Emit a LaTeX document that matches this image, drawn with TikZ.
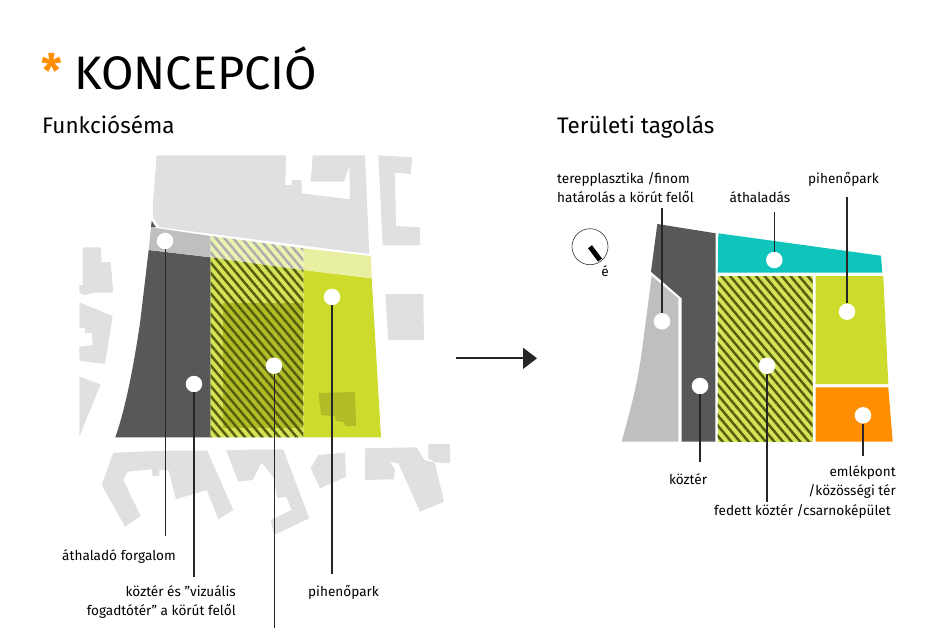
\documentclass[tikz,border=0pt]{standalone}
\usepackage{fontspec}
\setmainfont{Fira Sans}
\usetikzlibrary{arrows.meta,patterns.meta}
\definecolor{PlanGrey}{HTML}{E0E0E3}
\definecolor{PlanDark}{HTML}{585858}
\definecolor{PlanGreen}{HTML}{CDDC2C}
\definecolor{PlanStripe}{HTML}{55600F}
\definecolor{PlanTeal}{HTML}{0FC4BB}
\definecolor{PlanOrange}{HTML}{FF8F00}

\begin{document}
\begin{tikzpicture}[x=1pt,y=-1pt,>=Latex,
    building/.style={fill=PlanGrey,draw=none},
    hatch/.style={pattern={Lines[angle=-50,distance=6.6pt,line width=2.5pt]},pattern color=#1},
    dot/.style={circle,fill=white,minimum size=16.5pt,inner sep=0pt},
    leader/.style={draw=black!85,line width=1.1pt},
    label/.style={inner sep=0pt,font=\fontsize{13.6}{19}\selectfont,align=#1},
    label/.default=left,
    heading/.style={inner sep=0pt,anchor=base west,font=\fontsize{22.5}{28}\selectfont}]
  \useasboundingbox (0,0) rectangle (951,638);

  % left plan, neighbouring buildings
  \fill[building] (156.7,155.3) -- (286,155.3) -- (285.3,185) -- (291.7,185) -- (291.7,180) -- (301.7,180) -- (301.7,193.3) -- (350,199.3) -- (349.3,166.7) -- (344,181.7) -- (310.7,181.7) -- (312.7,155.3) -- (365,155.3) -- (369.3,254) -- (160,227.3) -- (153.3,218.3) -- (152.7,206.7) -- cycle;
  \fill[building] (378.3,155.3) -- (412.3,157.3) -- (410.7,174) -- (395,172.7) -- (396,226) -- (420,227.3) -- (420,245.3) -- (382.7,245.3) -- cycle;
  \fill[building] (385.3,294) -- (423.3,294) -- (424,340) -- (388.3,340) -- cycle;
  \fill[building] (82.7,247.3) -- (100.7,247.3) -- (101.7,262) -- (110.7,262) -- (113.3,292.7) -- (93.3,292.7) -- (85,295.3) -- (79.3,292.7) -- (79.3,285) -- (82.7,285) -- cycle;
  \fill[building] (79.3,302.3) -- (112.7,316) -- (105,364) -- (79.3,360.7) -- (79.3,346.7) -- (92.7,345) -- (92,333) -- (85,333) -- (85,328) -- (79.3,328) -- cycle;
  \fill[building] (79.3,376.7) -- (100.7,384.3) -- (79.3,436.7) -- cycle;
  \fill[building] (113.3,452.7) -- (163.3,450.7) -- (207.3,450.7) -- (233.3,510) -- (218.3,519.3) -- (206.7,490) -- (176,499.3) -- (168.3,470) -- (159.3,470) -- (159.3,476) -- (152.7,476) -- (151.7,469.3) -- (127.3,471.7) -- (123.3,480) -- (140.7,516) -- (125,526.7) -- (101.7,485) -- cycle;
  \fill[building] (226,450) -- (283.3,449.3) -- (309.3,518.3) -- (274,535) -- (270.7,520) -- (291.7,510) -- (286,496.7) -- (277.3,498.3) -- (274,478) -- (261.7,462.7) -- (252.7,480) -- (238.3,481.7) -- cycle;
  \fill[building] (318.3,455) -- (345,452.7) -- (346,476.7) -- (320,488.3) -- (310.7,468.3) -- cycle;
  \fill[building] (365,448.3) -- (416.7,447.3) -- (424.3,460) -- (435,462.7) -- (444,501.7) -- (420,511.7) -- (398.3,463.3) -- (390,461.7) -- (395,469.3) -- (394,479.3) -- (365,480) -- cycle;
  \fill[building] (428.3,444) -- (450,444) -- (450,463.3) -- (435,462.3) -- (428.3,458.3) -- cycle;

  % left plan, site
  \fill[PlanDark] (151.7,220.7) -- (156,227.3) -- (151,227.3) -- cycle;
  \fill[PlanDark] (148.7,250) -- (210.7,257.3) -- (210.7,437.3) -- (115.3,437.3) .. controls (125,410) and (133,370) .. (140,323.3) -- cycle;
  \fill[black!25] (151,227.3) -- (210.7,236) -- (210.7,257.3) -- (148.7,250) -- cycle;
  \fill[PlanGreen] (303.3,270) -- (371.7,278.3) -- (381,437.3) -- (303.3,437.3) -- cycle;
  \fill[PlanGreen!45] (303.3,248.3) -- (371,256) -- (371.7,278.3) -- (303.3,270) -- cycle;
  \fill[black!14!PlanGreen] (318.5,393) -- (355,392) -- (356,426) -- (345,426) -- (344,422) -- (336,421) -- (335,416) -- (321,415) -- cycle;
  \fill[PlanGreen!80!white] (210.7,257.3) -- (303.3,270) -- (303.3,437.3) -- (210.7,437.3) -- cycle;
  \fill[PlanGreen!38] (210.7,236) -- (303.3,248.3) -- (303.3,270) -- (210.7,257.3) -- cycle;
  \fill[black!14!PlanGreen] (222.7,302.7) rectangle (303.3,428.3);
  \fill[hatch=PlanStripe] (210.7,257.3) -- (303.3,270) -- (303.3,437.3) -- (210.7,437.3) -- cycle;
  \fill[hatch=black!32] (210.7,236) -- (303.3,248.3) -- (303.3,270) -- (210.7,257.3) -- cycle;

  % right plan
  \fill[PlanDark] (657.3,224) -- (715.7,233.3) -- (715.3,441.7) -- (681.7,441.7) -- (681.7,298.3) -- (651,271.7) -- cycle;
  \fill[black!25] (651.7,276) -- (678.3,298.3) -- (678.3,441.7) -- (621.7,441.7) .. controls (630,410) and (638,385) .. (643.3,340) -- cycle;
  \fill[PlanTeal] (718.3,233.3) -- (881,255.7) -- (882.3,272.7) -- (717.7,272.7) -- cycle;
  \fill[PlanGreen!80!white] (717.7,276) rectangle (812.7,441.7);
  \fill[hatch=PlanStripe] (717.7,276) rectangle (812.7,441.7);
  \fill[PlanGreen] (815.7,276) -- (883.3,276) -- (888.3,384) -- (815.7,384) -- cycle;
  \fill[PlanOrange] (815.7,387.3) -- (888.3,387.3) -- (892.7,441.7) -- (815.7,441.7) -- cycle;

  % title and headings
  \node[inner sep=0pt,font=\fontsize{46}{46}\selectfont\bfseries,text=PlanOrange] (star) at (52,70) {*};
  \node[inner sep=0pt,anchor=base west,font=\fontsize{47}{47}\selectfont] (title) at (74,89.5) {KONCEPCIÓ};
  \node[heading] (funkcio) at (42,133.5) {Funkcióséma};
  \node[heading] (terulet) at (557,133.5) {Területi tagolás};

  % dots of the left plan
  \node[dot] (forgalom) at (165,241) {};
  \node[dot] (fogado) at (194,384) {};
  \node[dot] (csarnok) at (274,365.7) {};
  \node[dot] (park) at (332,297) {};
  % dots of the right plan
  \node[dot] (terep) at (662,321.3) {};
  \node[dot] (kozter) at (700,386) {};
  \node[dot] (fedett) at (767,365.7) {};
  \node[dot] (athalad) at (774.3,260) {};
  \node[dot] (parkb) at (847,311.7) {};
  \node[dot] (emlek) at (863,415.3) {};

  % labels
  \node[label] (forgalomtxt) at (119,556) {áthaladó forgalom};
  \node[label=right,anchor=east] (fogadotxt) at (236,601.5) {köztér és "vizuális\\fogadtótér" a körút felől};
  \node[label] (parktxt) at (343.5,592) {pihenőpark};
  \node[label=left,anchor=west] (tereptxt) at (557,188) {terepplasztika /finom\\határolás a körút felől};
  \node[label] (athaladtxt) at (760,197) {áthaladás};
  \node[label] (parkbtxt) at (843.5,179) {pihenőpark};
  \node[label] (koztertxt) at (688,479) {köztér};
  \node[label=right,anchor=east] (emlektxt) at (896,481.5) {emlékpont\\/közösségi tér};
  \node[label] (fedetttxt) at (802.5,511) {fedett köztér /csarnoképület};

  % free ends of the leaders
  \coordinate (forgalomend) at (165,535.7);
  \coordinate (fogadoend) at (194,576.7);
  \coordinate (csarnokend) at (274,628);
  \coordinate (parkend) at (332,574);
  \coordinate (terepend) at (662,208.3);
  \coordinate (kozterend) at (700,461.7);
  \coordinate (fedettend) at (767,501.7);
  \coordinate (athaladend) at (774.3,211.7);
  \coordinate (parkbend) at (847,196.7);
  \coordinate (emlekend) at (863,455.7);

  \draw[leader,line width=0.8pt] (forgalom) -- (forgalomend);
  \draw[leader] (fogado) -- (fogadoend);
  \draw[leader,line width=0.8pt] (csarnok) -- (csarnokend);
  \draw[leader] (park) -- (parkend);
  \draw[leader] (terep) -- (terepend);
  \draw[leader] (kozter) -- (kozterend);
  \draw[leader] (fedett) -- (fedettend);
  \draw[leader] (athalad) -- (athaladend);
  \draw[leader] (parkb) -- (parkbend);
  \draw[leader] (emlek) -- (emlekend);

  % north sign
  \node[circle,draw=black!80,line width=0.6pt,minimum size=36pt,inner sep=0pt] (north) at (590,246.7) {};
  \coordinate (northend) at (600,260);
  \draw[line width=5pt] (north.center) -- (northend);
  \node[label] (northtxt) at (605,271) {é};

  % arrow between the plans
  \coordinate (arrowstart) at (455.5,358.3);
  \coordinate (arrowend) at (537,358.3);
  \draw[-{Triangle[length=14pt,width=21pt]},line width=1.7pt,black!85] (arrowstart) -- (arrowend);
\end{tikzpicture}
\end{document}
